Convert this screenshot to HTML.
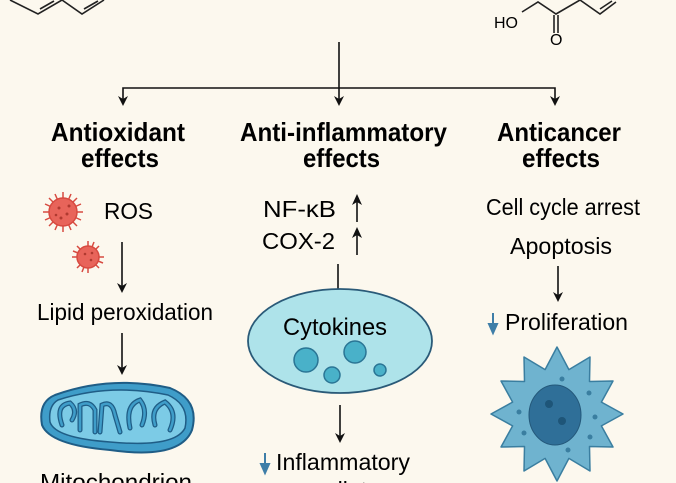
<!DOCTYPE html>
<html><head><meta charset="utf-8"><style>
html,body{margin:0;padding:0;background:#fcf8ee;}
body{width:676px;height:483px;overflow:hidden;position:relative;font-family:"Liberation Sans",sans-serif;color:#111;}
svg{position:absolute;left:0;top:0;}
</style></head><body>
<svg width="676" height="483" viewBox="0 0 676 483">
<g stroke="#222" stroke-width="1.6" fill="none">
<polyline points="10,0 38,14 62,0 82,14 104,0"/>
<line x1="40" y1="9" x2="54" y2="1"/><line x1="84" y1="9" x2="98" y2="1"/>
<polyline points="522,12 538,2 556,14 580,0 600,14 616,2"/>
<line x1="600" y1="9" x2="612" y2="1"/>
<line x1="554" y1="15" x2="554" y2="33"/><line x1="558" y1="15" x2="558" y2="33"/>
</g>
<text x="494" y="28" font-size="16">HO</text>
<text x="550" y="45" font-size="16">O</text>
<g stroke="#111" stroke-width="1.6" fill="none">
<line x1="339" y1="42" x2="339" y2="100"/>
<polyline points="123,100 123,88 555,88 555,100"/>
<line x1="122" y1="242" x2="122" y2="286"/>
<line x1="122" y1="333" x2="122" y2="368"/>
<line x1="338" y1="264" x2="338" y2="291"/>
<line x1="340" y1="405" x2="340" y2="436"/>
<line x1="558" y1="266" x2="558" y2="295"/>
<line x1="357" y1="222" x2="357" y2="202"/>
<line x1="357" y1="255" x2="357" y2="235"/>
</g>
<g fill="#111">
<path d="M118,96 L123,106 L128,96 L123,99Z"/>
<path d="M334,96 L339,106 L344,96 L339,99Z"/>
<path d="M550,96 L555,106 L560,96 L555,99Z"/>
<path d="M117,283 L122,293 L127,283 L122,286Z"/>
<path d="M117,365 L122,375 L127,365 L122,368Z"/>
<path d="M335,433 L340,443 L345,433 L340,436Z"/>
<path d="M553,292 L558,302 L563,292 L558,295Z"/>
<path d="M352,205 L357,194 L362,205 L357,202Z"/>
<path d="M352,238 L357,227 L362,238 L357,235Z"/>
</g>
<g font-weight="bold" font-size="26">
<text x="51" y="141" textLength="134" lengthAdjust="spacingAndGlyphs">Antioxidant</text>
<text x="81" y="167" textLength="78" lengthAdjust="spacingAndGlyphs">effects</text>
<text x="240" y="141" textLength="207" lengthAdjust="spacingAndGlyphs">Anti-inflammatory</text>
<text x="303" y="167" textLength="77" lengthAdjust="spacingAndGlyphs">effects</text>
<text x="497" y="141" textLength="124" lengthAdjust="spacingAndGlyphs">Anticancer</text>
<text x="522" y="167" textLength="78" lengthAdjust="spacingAndGlyphs">effects</text>
</g>
<g font-size="23">
<text x="104" y="219" textLength="49" lengthAdjust="spacingAndGlyphs">ROS</text>
<text x="37" y="320" textLength="176" lengthAdjust="spacingAndGlyphs">Lipid peroxidation</text>
<text x="40" y="490" textLength="152" lengthAdjust="spacingAndGlyphs">Mitochondrion</text>
<text x="263" y="217" textLength="73" lengthAdjust="spacingAndGlyphs">NF-κB</text>
<text x="262" y="249" textLength="73" lengthAdjust="spacingAndGlyphs">COX-2</text>
<text x="486" y="215" textLength="154" lengthAdjust="spacingAndGlyphs">Cell cycle arrest</text>
<text x="510" y="254" textLength="102" lengthAdjust="spacingAndGlyphs">Apoptosis</text>
<text x="505" y="330" textLength="123" lengthAdjust="spacingAndGlyphs">Proliferation</text>
<text x="276" y="470" textLength="134" lengthAdjust="spacingAndGlyphs">Inflammatory</text>
<text x="298" y="498">mediators</text>
</g>
<g stroke="#3e7ea8" stroke-width="2" fill="#3e7ea8">
<line x1="493" y1="313" x2="493" y2="328"/><path d="M489,324 L493,333 L497,324Z"/>
<line x1="265" y1="453" x2="265" y2="468"/><path d="M261,464 L265,473 L269,464Z"/>
</g>
<g fill="#e8645a" stroke="#d74a40" stroke-width="1.5">
<g transform="translate(63,212)"><g><line x1="-20" y1="0" x2="20" y2="0"/><line x1="0" y1="-20" x2="0" y2="20"/><line x1="-14" y1="-14" x2="14" y2="14"/><line x1="-14" y1="14" x2="14" y2="-14"/><line x1="-18" y1="-8" x2="18" y2="8"/><line x1="-18" y1="8" x2="18" y2="-8"/><line x1="-8" y1="-18" x2="8" y2="18"/><line x1="8" y1="-18" x2="-8" y2="18"/></g><circle r="14"/><g fill="#b03a30" stroke="none"><circle cx="-4" cy="-4" r="1.5"/><circle cx="4" cy="2" r="1.5"/><circle cx="-2" cy="6" r="1.5"/><circle cx="6" cy="-6" r="1.5"/><circle cx="-7" cy="3" r="1.3"/></g></g>
<g transform="translate(88,257)"><g><line x1="-16" y1="0" x2="16" y2="0"/><line x1="0" y1="-16" x2="0" y2="16"/><line x1="-11" y1="-11" x2="11" y2="11"/><line x1="-11" y1="11" x2="11" y2="-11"/><line x1="-15" y1="-6" x2="15" y2="6"/><line x1="-6" y1="15" x2="6" y2="-15"/></g><circle r="11"/><g fill="#b03a30" stroke="none"><circle cx="-3" cy="-3" r="1.3"/><circle cx="3" cy="3" r="1.3"/><circle cx="4" cy="-4" r="1.3"/></g></g>
</g>
<ellipse cx="340" cy="341" rx="92" ry="52" fill="#aee3ea" stroke="#2a5a78" stroke-width="1.8"/>
<text x="283" y="335" font-size="24" textLength="104" lengthAdjust="spacingAndGlyphs">Cytokines</text>
<g fill="#49b1c9" stroke="#2a7595" stroke-width="1.5">
<circle cx="306" cy="360" r="12"/><circle cx="355" cy="352" r="11"/><circle cx="332" cy="375" r="8"/><circle cx="380" cy="370" r="6"/>
</g>
<g>
<path d="M55,395 Q110,375 170,388 Q200,400 192,430 Q180,460 110,450 Q50,445 42,425 Q38,402 55,395Z" fill="#3f9dc9" stroke="#1f5d86" stroke-width="2"/>
<path d="M58,400 Q110,383 168,395 Q190,405 185,428 Q175,448 110,442 Q55,438 50,422 Q48,406 58,400Z" fill="#7ccbe6" stroke="#1f5d86" stroke-width="1.5"/>
<path d="M62,425 Q55,405 70,403 Q78,410 72,420 M80,430 L80,405 Q90,400 95,410 L95,432 M100,432 L102,405 Q112,400 115,415 L120,432 M130,428 Q125,405 140,400 Q148,410 142,425 M155,425 Q150,408 165,402 Q178,412 170,430" fill="none" stroke="#1f5d86" stroke-width="5" stroke-linecap="round"/>
<path d="M62,425 Q55,405 70,403 Q78,410 72,420 M80,430 L80,405 Q90,400 95,410 L95,432 M100,432 L102,405 Q112,400 115,415 L120,432 M130,428 Q125,405 140,400 Q148,410 142,425 M155,425 Q150,408 165,402 Q178,412 170,430" fill="none" stroke="#3f9dc9" stroke-width="2.5" stroke-linecap="round"/>
</g>
<polygon points="623,414 601.4,425.9 613,447 589.5,446.5 590,471 568.9,458.4 557,481 545.1,458.4 524,471 524.5,446.5 501,447 512.6,425.9 491,414 512.6,402.1 501,381 524.5,381.5 524,357 545.1,369.6 557,347 568.9,369.6 590,357 589.5,381.5 613,381 601.4,402.1" fill="#6fb3cf" stroke="#3a7ea0" stroke-width="1.5" stroke-linejoin="round"/>
<g fill="#3a7ea0"><circle cx="562" cy="379" r="2.5"/><circle cx="589" cy="393" r="2.5"/><circle cx="595" cy="417" r="2.5"/><circle cx="590" cy="437" r="2.5"/><circle cx="568" cy="450" r="2.5"/><circle cx="524" cy="433" r="2.5"/><circle cx="519" cy="412" r="2.5"/></g>
<ellipse cx="555" cy="415" rx="26" ry="30" fill="#2f6f98" stroke="#24587a"/>
<circle cx="549" cy="404" r="4" fill="#1e5578"/><circle cx="562" cy="421" r="4" fill="#1e5578"/>
</svg>
</body></html>
